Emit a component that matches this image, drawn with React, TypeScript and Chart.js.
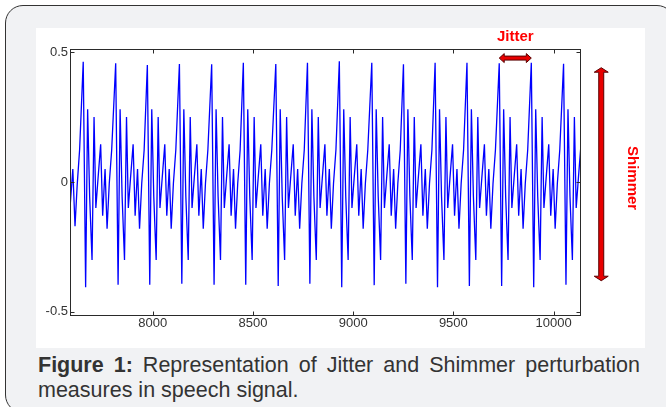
import React, { useEffect, useRef } from "react";
import { Chart, registerables } from "chart.js";

Chart.register(...registerables);

// ---- data ----
const xTicks = [8000, 8500, 9000, 9500, 10000];
const yTicks = [-0.5, 0, 0.5];
const xMin = 7587;
const xMax = 10132;
const yMin = -0.512;
const yMax = 0.512;

// samples before the first full glottal cycle
const leadSamples = [7587, 7601, 7612, 7623, 7635];
const leadValues = [-0.1, 0.05, -0.17, -0.01, 0.125];

// main positive peaks of each cycle (sample index and amplitude)
const peakSamples = [7653, 7815, 7973, 8133, 8294, 8452, 8614, 8772, 8931, 9093, 9251, 9409, 9568, 9729, 9889, 10050];
const peakValues = [0.463, 0.457, 0.45, 0.454, 0.453, 0.459, 0.454, 0.459, 0.465, 0.459, 0.453, 0.459, 0.459, 0.457, 0.459, 0.455];
// deepest trough that follows each peak
const troughOffset = 12;
const troughValues = [-0.405, -0.396, -0.396, -0.392, -0.396, -0.396, -0.4, -0.392, -0.405, -0.397, -0.392, -0.405, -0.4, -0.4, -0.405, -0.396];
// ringing that follows the trough within one cycle (offset from peak, amplitude)
const cycleOffsets = [22, 32, 44, 54, 63, 74, 87, 97, 109, 119, 130, 142];
const cycleValues = [0.28, -0.055, -0.3, 0.25, -0.1, 0.015, 0.145, -0.13, 0.05, -0.18, -0.005, 0.123];

// annotations
const jitterFrom = 13; // index in peakSamples
const jitterTo = 14;
const jitterLevel = 0.477;
const shimmerX = 10238;
const shimmerTop = 0.44;
const shimmerBottom = -0.38;
const shimmerLabelX = 10393;
const shimmerLabelY = 0.015;

const FONT = "'Liberation Sans', Arial, Helvetica, sans-serif";

function buildPoints() {
  const pts: { x: number; y: number }[] = [];
  leadSamples.forEach((s, i) => pts.push({ x: s, y: leadValues[i] }));
  peakSamples.forEach((p, i) => {
    pts.push({ x: p, y: peakValues[i] });
    pts.push({ x: p + troughOffset, y: troughValues[i] });
    cycleOffsets.forEach((o, j) => pts.push({ x: p + o, y: cycleValues[j] }));
  });
  return pts;
}

function arrowPath(ctx: CanvasRenderingContext2D, x1: number, y1: number, x2: number, y2: number, t: number, hl: number, hw: number) {
  const dx = x2 - x1;
  const dy = y2 - y1;
  const len = Math.hypot(dx, dy);
  const ux = dx / len;
  const uy = dy / len;
  const nx = -uy;
  const ny = ux;
  const P = (along: number, side: number) => [x1 + ux * along + nx * side, y1 + uy * along + ny * side];
  const pts = [
    P(0, 0),
    P(hl, hw),
    P(hl, t / 2),
    P(len - hl, t / 2),
    P(len - hl, hw),
    P(len, 0),
    P(len - hl, -hw),
    P(len - hl, -t / 2),
    P(hl, -t / 2),
    P(hl, -hw),
  ];
  ctx.beginPath();
  pts.forEach((p, i) => (i === 0 ? ctx.moveTo(p[0], p[1]) : ctx.lineTo(p[0], p[1])));
  ctx.closePath();
  ctx.fillStyle = "#e80000";
  ctx.fill();
  ctx.strokeStyle = "#5a0000";
  ctx.lineWidth = 1;
  ctx.stroke();
}

const matlabPlugin = {
  id: "matlabBox",
  afterDraw(chart: any) {
    const { ctx, chartArea: a, scales } = chart;
    const x = scales.x;
    const y = scales.y;
    ctx.save();
    ctx.strokeStyle = "#2a2a2a";
    ctx.lineWidth = 1;
    const L = Math.round(a.left) + 0.5;
    const R = Math.round(a.right) + 0.5;
    const T = Math.round(a.top) + 0.5;
    const B = Math.round(a.bottom) + 0.5;
    ctx.strokeRect(L, T, R - L, B - T);
    const tk = 4;
    ctx.beginPath();
    xTicks.forEach((v) => {
      const px = Math.round(x.getPixelForValue(v)) + 0.5;
      ctx.moveTo(px, B);
      ctx.lineTo(px, B - tk);
      ctx.moveTo(px, T);
      ctx.lineTo(px, T + tk);
    });
    yTicks.forEach((v) => {
      const py = Math.round(y.getPixelForValue(v)) + 0.5;
      ctx.moveTo(L, py);
      ctx.lineTo(L + tk, py);
      ctx.moveTo(R, py);
      ctx.lineTo(R - tk, py);
    });
    ctx.stroke();

    // Jitter arrow
    const jx1 = x.getPixelForValue(peakSamples[jitterFrom]);
    const jx2 = x.getPixelForValue(peakSamples[jitterTo]);
    const jy = y.getPixelForValue(jitterLevel);
    arrowPath(ctx, jx1, jy, jx2, jy, 4, 5, 4.5);
    ctx.fillStyle = "#ff0000";
    ctx.font = `bold 15px ${FONT}`;
    ctx.textAlign = "center";
    ctx.textBaseline = "middle";
    ctx.fillText("Jitter", (jx1 + jx2) / 2, jy - 21);

    // Shimmer arrow
    const sx = x.getPixelForValue(shimmerX);
    arrowPath(ctx, sx, y.getPixelForValue(shimmerTop), sx, y.getPixelForValue(shimmerBottom), 5, 4.5, 7);
    ctx.save();
    ctx.translate(x.getPixelForValue(shimmerLabelX), y.getPixelForValue(shimmerLabelY));
    ctx.rotate(Math.PI / 2);
    ctx.fillStyle = "#ff0000";
    ctx.font = `bold 15px ${FONT}`;
    ctx.textAlign = "center";
    ctx.textBaseline = "middle";
    ctx.fillText("Shimmer", 0, 0);
    ctx.restore();
    ctx.restore();
  },
};

export default function App() {
  const ref = useRef<HTMLCanvasElement>(null);
  useEffect(() => {
    if (!ref.current) return;
    const chart = new Chart(ref.current, {
      type: "line",
      data: {
        datasets: [
          {
            data: buildPoints(),
            borderColor: "#0000ff",
            borderWidth: 1.3,
            pointRadius: 0,
            tension: 0,
            fill: false,
          },
        ],
      },
      options: {
        animation: false,
        responsive: false,
        maintainAspectRatio: false,
        events: [],
        layout: { padding: { top: 21, right: 65, bottom: 0, left: 0 } },
        plugins: { legend: { display: false }, tooltip: { enabled: false }, title: { display: false } },
        scales: {
          x: {
            type: "linear",
            min: xMin,
            max: xMax,
            grid: { display: false, drawTicks: false },
            border: { display: false },
            afterBuildTicks: (s: any) => {
              s.ticks = xTicks.map((v) => ({ value: v }));
            },
            afterFit: (s: any) => {
              s.height = 33;
            },
            ticks: {
              autoSkip: false,
              maxRotation: 0,
              padding: 1,
              color: "#333",
              font: { family: FONT, size: 13 },
              callback: (v: any) => String(v),
            },
          },
          y: {
            type: "linear",
            min: yMin,
            max: yMax,
            grid: { display: false, drawTicks: false },
            border: { display: false },
            afterBuildTicks: (s: any) => {
              s.ticks = yTicks.map((v) => ({ value: v }));
            },
            afterFit: (s: any) => {
              s.width = 34;
            },
            ticks: {
              autoSkip: false,
              padding: 2,
              color: "#333",
              font: { family: FONT, size: 13 },
              callback: (v: any) => String(v),
            },
          },
        },
      },
      plugins: [matlabPlugin],
    });
    return () => chart.destroy();
  }, []);

  return (
    <div style={{ position: "fixed", left: 0, top: 0, width: 666, height: 407, background: "#ffffff", overflow: "hidden" }}>
      <div
        style={{
          position: "absolute",
          left: 5,
          top: 5,
          width: 670,
          height: 408,
          border: "1.5px solid #333",
          borderRadius: 18,
          background: "#f1f2f4",
          boxSizing: "border-box",
        }}
      />
      <div style={{ position: "absolute", left: 36, top: 28, width: 609, height: 320, background: "#ffffff" }}>
        <canvas ref={ref} width={609} height={320} style={{ display: "block", width: 609, height: 320 }} />
      </div>
      <div
        style={{
          position: "absolute",
          left: 38,
          top: 353,
          width: 602,
          fontFamily: FONT,
          fontSize: 21.5,
          lineHeight: "25px",
          textAlign: "justify",
          color: "#333",
        }}
      >
        <b>Figure 1:</b> Representation of Jitter and Shimmer perturbation measures in speech signal.
      </div>
    </div>
  );
}
